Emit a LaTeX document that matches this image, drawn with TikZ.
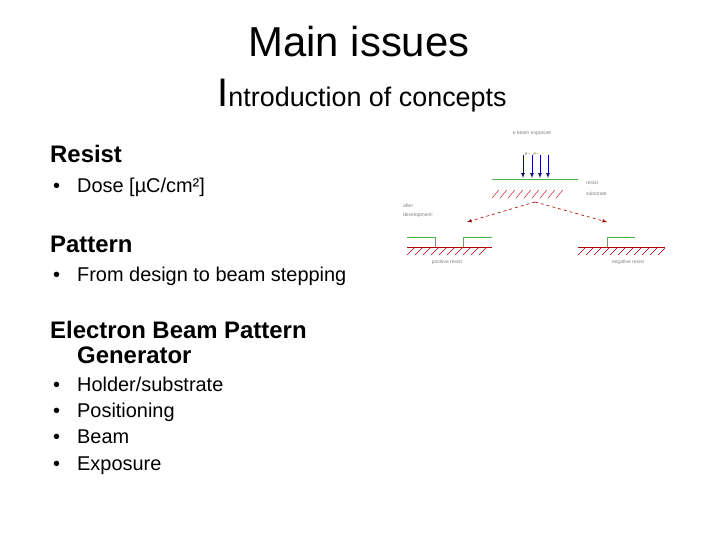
\documentclass[tikz,border=0pt]{standalone}
\usepackage{fontspec}
\setmainfont{Liberation Sans}
\usetikzlibrary{patterns}
\begin{document}
\begin{tikzpicture}[x=1bp,y=-1bp,
  txt/.style={anchor=base west,inner sep=0pt,font=\fontsize{20}{22}\selectfont},
  hd/.style={anchor=base west,inner sep=0pt,font=\fontsize{24}{26}\selectfont\bfseries},
  tiny/.style={inner sep=0pt,font=\fontsize{5}{6}\selectfont,text=gray},
  res/.style={draw=green!40!gray,line width=0.8pt},
  hatch/.style={draw=red!70!black,line width=0.4pt},
  dev/.style={draw=red!70!black,dashed,-latex,line width=0.6pt}]
\useasboundingbox (0,0) rectangle (720,540);
\node[anchor=base,inner sep=0pt,font=\fontsize{42}{46}\selectfont] (t) at (359,57) {Main issues};
\node[anchor=base,inner sep=0pt] (st) at (362,107) {{\fontsize{40}{44}\selectfont I}{\fontsize{27}{30}\selectfont ntroduction of concepts}};
\node[hd] (h1) at (50,163) {Resist};
\node[txt] (b1) at (53,193) {•\hspace{17bp}Dose [µC/cm²]};
\node[hd] (h2) at (50,253) {Pattern};
\node[txt] (b2) at (53,282) {•\hspace{17bp}From design to beam stepping};
\node[hd] (h3) at (50,338) {Electron Beam Pattern};
\node[hd] (h3b) at (77,363) {Generator};
\node[txt] (b3) at (53,391) {•\hspace{17bp}Holder/substrate};
\node[txt] (b4) at (53,417) {•\hspace{17bp}Positioning};
\node[txt] (b5) at (53,443) {•\hspace{17bp}Beam};
\node[txt] (b6) at (53,470) {•\hspace{17bp}Exposure};
% figure
\node[tiny] (l1) at (532,133) {e beam exposure};
\node[tiny] (l2) at (532,154) {e\textminus\ \ e\textminus};
\foreach \x in {523,532,540,548} \draw[blue!50!black,-latex,line width=0.7pt] (\x,155) -- (\x,178);
\draw[res] (492,179) -- (578,179);
\foreach \x in {492,500,...,562} \draw[hatch] (\x,198) -- (\x+7,190);
\node[tiny,anchor=west] (l3) at (586,183) {resist};
\node[tiny,anchor=west] (l4) at (586,194) {substrate};
\node[tiny,anchor=west] (l5) at (403,206) {after};
\node[tiny,anchor=west] (l6) at (403,215) {development:};
\coordinate (c) at (535,202);
\coordinate (pl) at (467,222);
\coordinate (pr) at (607,222);
\draw[dev] (c) -- (pl);
\draw[dev] (c) -- (pr);
\draw[hatch] (407,247) -- (492,247);
\foreach \x in {407,415,...,485} \draw[hatch] (\x,255) -- (\x+7,248);
\draw[res,line width=0.6pt] (407,237) -- (435,237) -- (435,247);
\draw[res,line width=0.6pt] (463,247) -- (463,237) -- (492,237);
\node[tiny] (l7) at (447,262) {positive resist};
\draw[hatch] (578,247) -- (665,247);
\foreach \x in {578,586,...,658} \draw[hatch] (\x,255) -- (\x+7,248);
\draw[res,line width=0.6pt] (607,247) -- (607,237) -- (635,237);
\node[tiny] (l8) at (628,262) {negative resist};
\end{tikzpicture}
\end{document}
